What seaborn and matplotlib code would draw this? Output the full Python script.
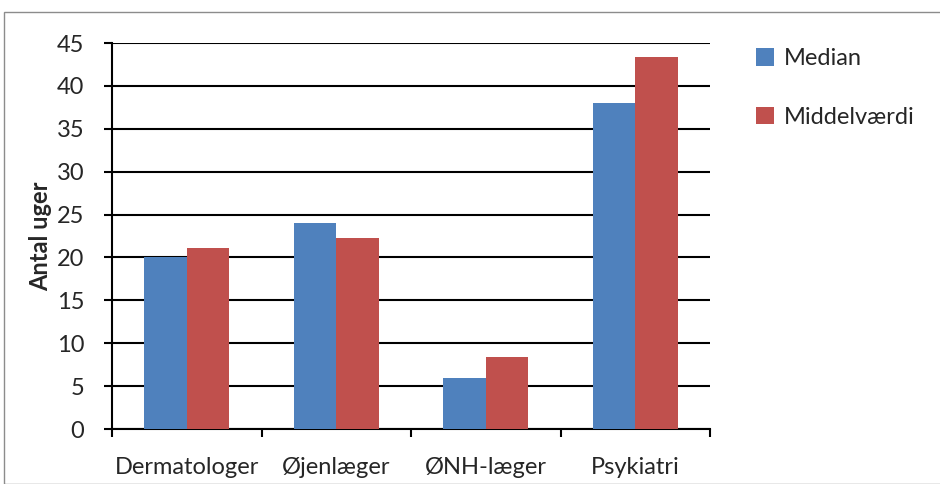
import numpy as np
import pandas as pd
import matplotlib
matplotlib.use('Agg')
import matplotlib.pyplot as plt
import seaborn as sns
from matplotlib.patches import Rectangle

categories = ['Dermatologer', 'Øjenlæger', 'ØNH-læger', 'Psykiatri']
median = [20.0, 24.0, 6.0, 38.0]
middel = [21.1, 22.3, 8.4, 43.4]

df = pd.DataFrame({
    'kategori': categories * 2,
    'uger': median + middel,
    'serie': ['Median'] * 4 + ['Middelværdi'] * 4,
})

sns.set_style('white')
plt.rcParams['font.family'] = ['Lato', 'DejaVu Sans']
fs = 17

fig = plt.figure(figsize=(9.4, 4.84), dpi=100)
ax = fig.add_axes([112 / 940, 1 - 429 / 484, (710 - 112) / 940, (429 - 43) / 484])

sns.barplot(data=df, x='kategori', y='uger', hue='serie', order=categories,
            palette=['#4f81bd', '#c0504d'], width=0.57, gap=0, saturation=1,
            linewidth=0, ax=ax, legend=True, zorder=3)

ax.set_ylim(0, 45)
ax.set_xlim(-0.5, 3.5)
ax.set_yticks(np.arange(0, 50, 5))
ax.set_yticklabels([str(v) for v in range(0, 50, 5)], fontsize=fs)
ax.yaxis.grid(True, color='black', linewidth=1.5, zorder=0)
ax.set_axisbelow(True)

ax.set_xticks(np.arange(-0.5, 4, 1))
ax.set_xticklabels([])
ax.set_xticks(range(4), minor=True)
ax.set_xticklabels(categories, minor=True, fontsize=fs)
ax.tick_params(axis='x', which='minor', length=0, pad=20)
ax.tick_params(axis='x', which='major', direction='out', length=6, width=1.5, color='black', bottom=True)
ax.tick_params(axis='y', direction='out', length=6, width=1.5, color='black', left=True, pad=14)

for s in ['top', 'right']:
    ax.spines[s].set_visible(False)
for s in ['left', 'bottom']:
    ax.spines[s].set_color('black')
    ax.spines[s].set_linewidth(1.5)

ax.set_xlabel('')
ax.set_ylabel('Antal uger', fontsize=fs, fontweight='bold', labelpad=3)

handles, labels = ax.get_legend_handles_labels()
ax.legend(handles, labels, loc='upper left', bbox_to_anchor=(735 / 940, 1 - 27 / 484),
          bbox_transform=fig.transFigure, frameon=False, fontsize=fs,
          handlelength=0.75, handleheight=0.75, handletextpad=0.4, labelspacing=1.6)

fig.patches.append(Rectangle((4 / 940, 0), 2, 1 - 12 / 484, transform=fig.transFigure,
                             fill=False, edgecolor='#8c8c8c', linewidth=1))

fig.savefig('out.png', dpi=100)
